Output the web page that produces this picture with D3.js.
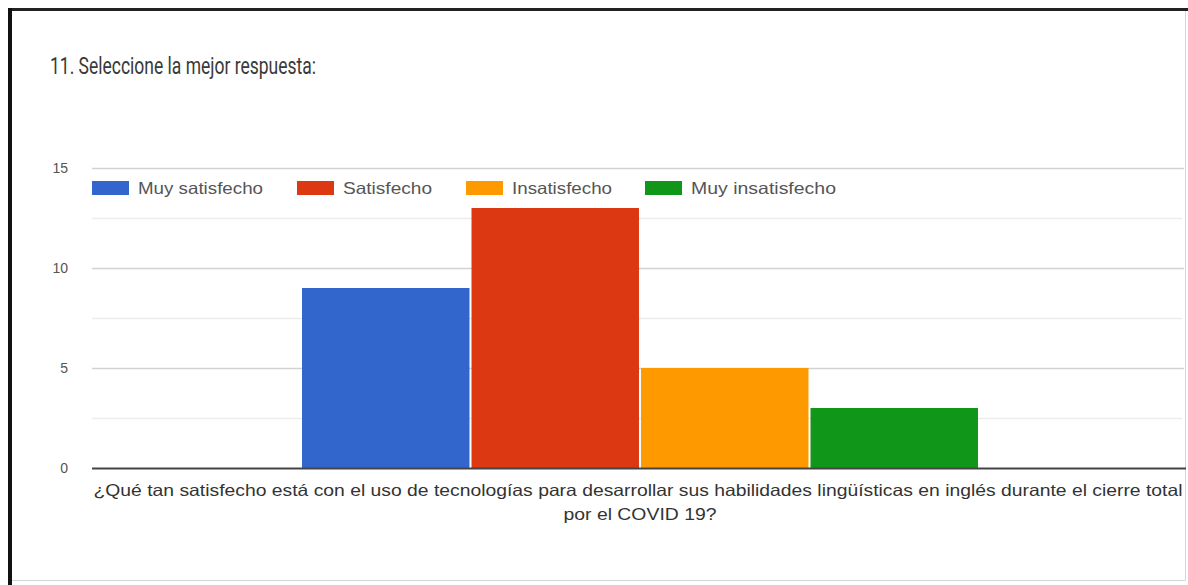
<!DOCTYPE html>
<html>
<head>
<meta charset="utf-8">
<script src="https://cdn.jsdelivr.net/npm/d3@7"></script>
<style>
  html, body { margin: 0; padding: 0; background: #fff; }
  svg { display: block; }
</style>
</head>
<body>
<svg id="chart" width="1188" height="585"></svg>
<script>
// Survey question and answer counts
const title = "11. Seleccione la mejor respuesta:";
const questionLines = [
  "¿Qué tan satisfecho está con el uso de tecnologías para desarrollar sus habilidades lingüísticas en inglés durante el cierre total",
  "por el COVID 19?"
];
const question = questionLines.join(" ");
const seriesNames = ["Muy satisfecho", "Satisfecho", "Insatisfecho", "Muy insatisfecho"];
const seriesValues = [9, 13, 5, 3];
const seriesColors = ["#3366cc", "#dc3912", "#ff9900", "#109618"];
const yTicks = [0, 5, 10, 15];
const yMinorTicks = [2.5, 7.5, 12.5];

const svg = d3.select("#chart");
const W = 1188, H = 585;

// Card frame
svg.append("rect").attr("x", 0).attr("y", 0).attr("width", W).attr("height", H).attr("fill", "#fff");
svg.append("rect")
  .attr("x", 10.5).attr("y", 9.5).attr("width", 1175).attr("height", 571)
  .attr("fill", "none").attr("stroke", "#d6d6d6").attr("stroke-width", 1);
svg.append("line").attr("x1", 8).attr("x2", W).attr("y1", 9.5).attr("y2", 9.5)
  .attr("stroke", "#222").attr("stroke-width", 3);
svg.append("line").attr("x1", 10).attr("x2", 10).attr("y1", 8).attr("y2", H)
  .attr("stroke", "#111").attr("stroke-width", 4);

// Title
svg.append("text")
  .attr("x", 50).attr("y", 74)
  .attr("font-family", "Roboto, 'Noto Sans', sans-serif")
  .attr("font-size", 23)
  .attr("fill", "#3a3a3a")
  .attr("textLength", 266).attr("lengthAdjust", "spacingAndGlyphs")
  .text(title);

// Scales
const plot = { left: 92, right: 1188, top: 168, bottom: 468 };
const y = d3.scaleLinear().domain([0, 15]).range([plot.bottom, plot.top]);
const x0 = d3.scaleBand().domain([question]).range([plot.left, plot.right]).paddingOuter(0.3107);
const x1 = d3.scaleBand().domain(seriesNames).range([0, x0.bandwidth()]).paddingInner(0.012);

// Gridlines
const g = svg.append("g");
g.selectAll("line.minor").data(yMinorTicks).join("line")
  .attr("class", "minor")
  .attr("x1", plot.left).attr("x2", 1182)
  .attr("y1", d => Math.round(y(d)) + 0.5).attr("y2", d => Math.round(y(d)) + 0.5)
  .attr("stroke", "#ececec").attr("stroke-width", 1.5);
g.selectAll("line.major").data(yTicks.filter(d => d !== 0)).join("line")
  .attr("class", "major")
  .attr("x1", plot.left).attr("x2", 1184)
  .attr("y1", d => Math.round(y(d)) + 0.5).attr("y2", d => Math.round(y(d)) + 0.5)
  .attr("stroke", "#d2d2d2").attr("stroke-width", 1.5);

// Y tick labels
g.selectAll("text.ytick").data(yTicks).join("text")
  .attr("class", "ytick")
  .attr("x", 68).attr("y", d => y(d) + 5)
  .attr("text-anchor", "end")
  .attr("font-family", "'Liberation Sans', Arial, sans-serif")
  .attr("font-size", 14)
  .attr("fill", "#555")
  .text(d => d);

// Bars
const bars = svg.append("g").attr("transform", `translate(${x0(question)},0)`);
bars.selectAll("rect").data(seriesNames).join("rect")
  .attr("x", d => x1(d))
  .attr("width", x1.bandwidth())
  .attr("y", (d, i) => y(seriesValues[i]))
  .attr("height", (d, i) => y(0) - y(seriesValues[i]))
  .attr("fill", (d, i) => seriesColors[i]);

// Baseline
svg.append("line")
  .attr("x1", plot.left).attr("x2", 1186)
  .attr("y1", y(0) + 0.5).attr("y2", y(0) + 0.5)
  .attr("stroke", "#444").attr("stroke-width", 2);

// Legend
const legendX = [92, 297, 466, 645];
const legendTextW = [125, 89, 100, 145];
const legend = svg.append("g");
seriesNames.forEach((name, i) => {
  legend.append("rect")
    .attr("x", legendX[i]).attr("y", 181)
    .attr("width", 37).attr("height", 14)
    .attr("fill", seriesColors[i]);
  legend.append("text")
    .attr("x", legendX[i] + 46).attr("y", 194)
    .attr("font-family", "'Liberation Sans', Arial, sans-serif")
    .attr("font-size", 16.5)
    .attr("fill", "#555")
    .attr("textLength", legendTextW[i]).attr("lengthAdjust", "spacingAndGlyphs")
    .text(name);
});

// Category label, wrapped on two lines
const cx = x0(question) + x0.bandwidth() / 2;
const lineW = [1089, 153];
questionLines.forEach((line, i) => {
  svg.append("text")
    .attr("x", cx - lineW[i] / 2 + (i === 0 ? -2 : 0))
    .attr("y", 496 + i * 24)
    .attr("font-family", "'Liberation Sans', Arial, sans-serif")
    .attr("font-size", 16.5)
    .attr("fill", "#333")
    .attr("textLength", lineW[i]).attr("lengthAdjust", "spacingAndGlyphs")
    .text(line);
});
</script>
</body>
</html>
